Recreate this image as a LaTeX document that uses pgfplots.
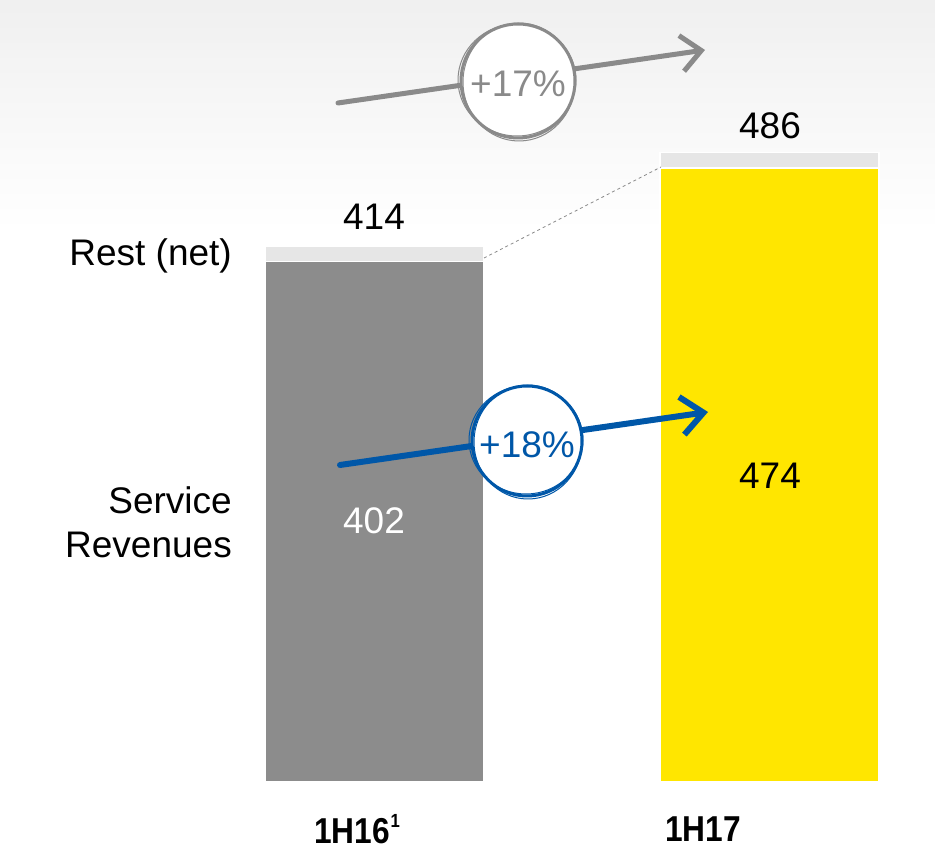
\documentclass[border=0pt]{standalone}
\usepackage{pgfplots}
\pgfplotsset{compat=1.18}
\usepackage{fontspec}
\setmainfont{Liberation Sans}
\usetikzlibrary{arrows.meta}
\definecolor{bargray}{HTML}{8C8C8C}
\definecolor{restgray}{HTML}{E6E6E6}
\definecolor{eyyellow}{HTML}{FFE600}
\definecolor{arrowgray}{HTML}{8A8A8A}
\definecolor{arrowblue}{HTML}{0057A8}
\begin{document}
\begin{tikzpicture}
\path[use as bounding box] (0,0) rectangle (935pt,851pt);
\shade[top color=black!6, bottom color=white] (0,620pt) rectangle (935pt,851pt);
\begin{axis}[
  at={(0,0)}, anchor=south west,
  scale only axis, width=935pt, height=851pt,
  hide axis,
  xmin=-0.9481, xmax=1.4190,
  ymin=-53.3, ymax=603.9,
  ybar stacked, bar width=219pt,
  clip=false,
]
\addplot[fill=bargray, draw=white, line width=1.5pt] coordinates {(0,402) (1,0)};
\addplot[fill=eyyellow, draw=white, line width=1.5pt] coordinates {(0,0) (1,474)};
\addplot[fill=restgray, draw=white, line width=1.5pt] coordinates {(0,12) (1,12)};
\end{axis}
\begin{scope}[shift={(0,851pt)}, x=1pt, y=-1pt]
\fontsize{37}{44}\selectfont
% dashed connector
\draw[arrowgray, dashed, line width=0.8pt] (484,258) -- (661,167);
% value labels
\node at (374,217) {414};
\node at (770,126) {486};
\node[white] at (374,521) {402};
\node at (770,476) {474};
\node[anchor=east, inner sep=0pt] at (232,256) {Rest (net)};
\node[anchor=east, inner sep=0pt, align=right] at (232,522) {Service\\Revenues};
% category labels
\node[font=\fontsize{36}{40}\selectfont\bfseries] at (357,829) {\scalebox{0.88}[1]{1H16\kern1pt\raisebox{0.45em}{\fontsize{19}{19}\selectfont 1}}};
\node[font=\fontsize{36}{40}\selectfont\bfseries] at (703,829) {\scalebox{0.88}[1]{1H17}};
% gray arrow
\draw[arrowgray, line width=5pt, line cap=round, -{Straight Barb[length=20pt, width=36pt, line width=5pt]}] (338,103) -- (705,50);
\fill[white] (518,81) circle (57);
\draw[arrowgray, line width=3pt] (518,81) circle (57);
\draw[arrowgray, line width=1pt] (517,80) ellipse (59 and 56);
\draw[arrowgray, line width=1pt] (519,82) ellipse (56 and 59);
\node[arrowgray] at (518,84) {+17\%};
% blue arrow
\draw[arrowblue, line width=6pt, line cap=round, -{Straight Barb[length=22pt, width=38pt, line width=6pt]}] (340,465) -- (708,412);
\fill[white] (527,441) circle (55);
\draw[arrowblue, line width=3pt] (527,441) circle (55);
\draw[arrowblue, line width=1pt] (526,440) ellipse (57 and 54);
\draw[arrowblue, line width=1pt] (528,442) ellipse (54 and 57);
\node[arrowblue] at (527,445) {+18\%};
\end{scope}
\end{tikzpicture}
\end{document}
